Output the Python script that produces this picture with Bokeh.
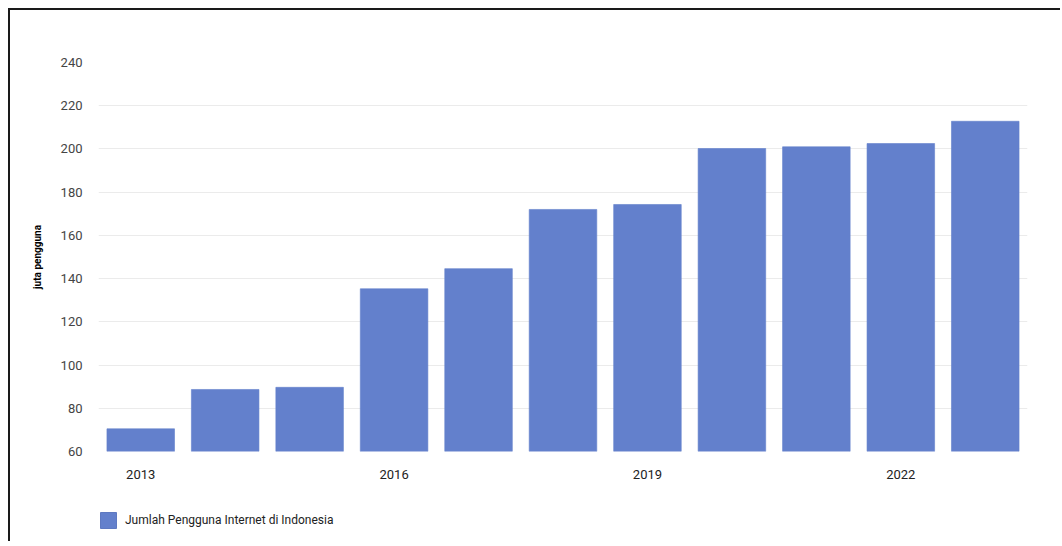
from bokeh.plotting import figure
from bokeh.layouts import column
from bokeh.models import Legend, LegendItem, FixedTicker, Range1d, ColumnDataSource
from bokeh.embed import file_html
from bokeh.resources import INLINE

years = [2013, 2014, 2015, 2016, 2017, 2018, 2019, 2020, 2021, 2022, 2023]
users = [70.5, 88.7, 89.7, 135.3, 144.6, 172.0, 174.3, 200.2, 201.0, 202.5, 212.8]
x_ticks = [2013, 2016, 2019, 2022]
y_ticks = [60, 80, 100, 120, 140, 160, 180, 200, 220, 240]
series_name = "Jumlah Pengguna Internet di Indonesia"
y_title = "juta pengguna"

FONT = "Roboto"
BAR = "#6380cc"

src = ColumnDataSource(dict(year=years, users=users))

p = figure(width=1050, height=481, output_backend="svg", toolbar_location=None,
           x_range=Range1d(2012.5, 2023.5), y_range=Range1d(60, 240),
           min_border_left=88, min_border_right=33, min_border_top=52, min_border_bottom=40)
p.outline_line_color = None

r = p.vbar(x="year", top="users", bottom=60, width=0.8, source=src,
           fill_color=BAR, line_color=BAR, line_alpha=0.6, line_width=1)

p.xaxis.ticker = FixedTicker(ticks=x_ticks)
p.yaxis.ticker = FixedTicker(ticks=y_ticks)
for ax in (p.xaxis, p.yaxis):
    ax.axis_line_color = None
    ax.major_tick_line_color = None
    ax.minor_tick_line_color = None
    ax.major_label_text_font = FONT
    ax.major_label_text_font_size = "13px"
p.xaxis.major_label_text_color = "#222222"
p.yaxis.major_label_text_color = "#444444"
p.xaxis.major_label_standoff = 12
p.yaxis.major_label_standoff = 10
p.yaxis.axis_label = y_title
p.yaxis.axis_label_text_font = FONT
p.yaxis.axis_label_text_font_size = "10px"
p.yaxis.axis_label_text_font_style = "bold"
p.yaxis.axis_label_text_color = "#000000"
p.yaxis.axis_label_standoff = 15

p.xgrid.grid_line_color = None
p.ygrid.grid_line_color = "#ebebeb"
p.ygrid.grid_line_width = 1

# legend strip below the chart (its bar renderer is hidden; only the legend swatch shows)
q = figure(width=1050, height=50, output_backend="svg", toolbar_location=None,
           x_axis_type=None, y_axis_type=None,
           x_range=Range1d(0, 1), y_range=Range1d(-20, -10),
           min_border_left=0, min_border_right=0, min_border_top=0, min_border_bottom=0)
q.outline_line_color = None
q.xgrid.grid_line_color = None
q.ygrid.grid_line_color = None
rq = q.vbar(x="year", top="users", bottom=60, width=0.8, source=src,
            fill_color=BAR, line_color="#4a66b8", line_alpha=0.8)
rq.visible = False

legend = Legend(items=[LegendItem(label=series_name, renderers=[rq])],
                location=(0, 11), orientation="horizontal", click_policy="none",
                glyph_width=20, glyph_height=20, label_standoff=7,
                padding=0, margin=0, border_line_color=None, background_fill_alpha=0,
                label_text_font=FONT, label_text_font_size="12px", label_text_color="#222222")
q.add_layout(legend, "center")

layout = column(p, q, spacing=0)
layout.styles = {"margin-left": "8px", "margin-top": "8px",
                 "border-left": "2px solid #1a1a1a", "border-top": "2px solid #1a1a1a"}

open("out.html", "w").write(file_html(layout, INLINE))
